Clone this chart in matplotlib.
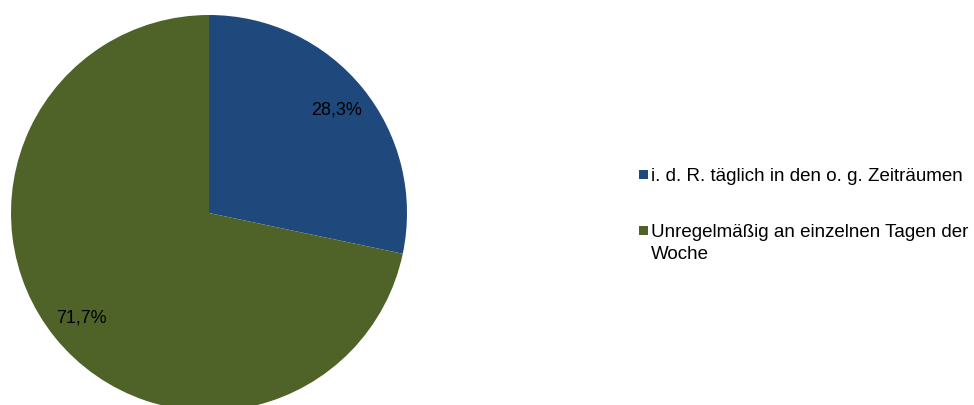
import matplotlib.pyplot as plt
from matplotlib.patches import Rectangle

plt.rcParams["font.family"] = ["Liberation Sans", "DejaVu Sans"]

categories = [
    "i. d. R. täglich in den o. g. Zeiträumen",
    "Unregelmäßig an einzelnen Tagen der\nWoche",
]
shares = [28.3, 71.7]
colors = ["#1F497D", "#4F6228"]

W, H = 974, 406
FS = 13.5
fig = plt.figure(figsize=(W / 100, H / 100), dpi=100)

# pie box in pixels: centre (209, 214), radius 198 -> runs off the bottom edge
cx, cy, r = 209, 214, 198
ax = fig.add_axes([(cx - r) / W, (H - cy - r) / H, 2 * r / W, 2 * r / H])
ax.pie(
    shares,
    colors=colors,
    startangle=90,
    counterclock=False,
    radius=1.0,
    autopct=lambda p: f"{p:.1f}%".replace(".", ","),
    pctdistance=0.83,
    wedgeprops={"linewidth": 0},
    textprops={"fontsize": 13, "color": "black"},
)
ax.set_xlim(-1, 1)
ax.set_ylim(-1, 1)
ax.set_aspect("equal")
ax.axis("off")

# legend drawn by hand so the swatch sits on the first text line
legend_y = [176, 232]
line_step = 22
for label, color, y in zip(categories, colors, legend_y):
    fig.patches.append(
        Rectangle((639 / W, (H - y - 4) / H), 9 / W, 9 / H,
                  transform=fig.transFigure, facecolor=color, edgecolor="none")
    )
    for i, line in enumerate(label.split("\n")):
        fig.text(651 / W, (H - y - 5 - i * line_step) / H, line, fontsize=FS,
                 va="baseline", ha="left", color="black")

fig.savefig("out.png", dpi=100)
